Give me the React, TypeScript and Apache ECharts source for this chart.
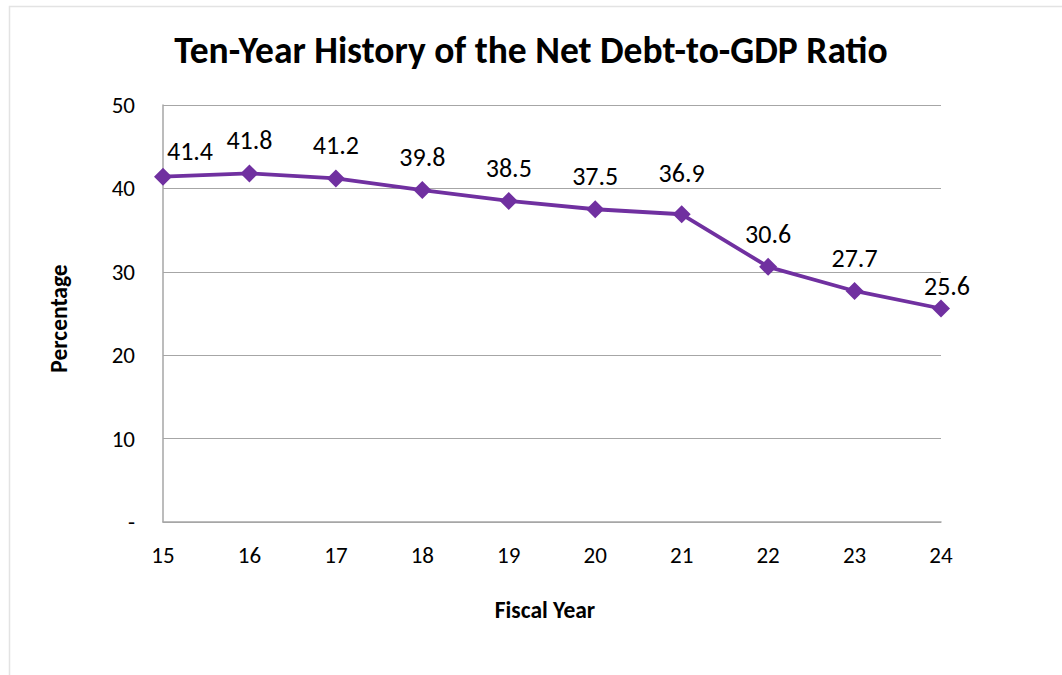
import React, { useEffect, useRef } from "react";
import * as echarts from "echarts";

const fiscalYears = ["15", "16", "17", "18", "19", "20", "21", "22", "23", "24"];
const netDebtToGdp = [41.4, 41.8, 41.2, 39.8, 38.5, 37.5, 36.9, 30.6, 27.7, 25.6];
const yTicks = [0, 10, 20, 30, 40, 50];

const titleText = "Ten-Year History of the Net Debt-to-GDP Ratio";
const xName = "Fiscal Year";
const yName = "Percentage";

const FONT = 'Carlito, "Open Sans", sans-serif';

// label nudges (Excel-style manual placement)
const labelNudges: Record<number, [number, number]> = {
  0: [27, 7],
  6: [0, -8],
  9: [6, 11],
};

export default function App() {
  const ref = useRef<HTMLDivElement>(null);
  useEffect(() => {
    document.body.style.margin = "0";
    const chart = echarts.init(ref.current!, null, { renderer: "svg" });
    chart.setOption({
      animation: false,
      backgroundColor: "#ffffff",
      graphic: [
        {
          type: "polyline",
          shape: { points: [[9.5, 680], [9.5, 6.5], [1070, 6.5]] },
          style: { stroke: "#e3e3e3", lineWidth: 1.5, fill: null },
          silent: true,
        },
      ],
      title: {
        text: titleText,
        left: "center",
        top: 26,
        textStyle: { fontFamily: FONT, fontWeight: "bold", fontSize: 37.5, color: "#000" },
      },
      grid: { left: 163, right: 121, top: 105, bottom: 153 },
      xAxis: {
        type: "category",
        data: fiscalYears,
        boundaryGap: false,
        name: xName,
        nameLocation: "middle",
        nameGap: 76,
        nameTextStyle: {
          fontFamily: FONT,
          fontWeight: "bold",
          fontSize: 23.5,
          color: "#000",
          padding: [0, 14, 0, 0],
        },
        axisLine: { lineStyle: { color: "#a6a6a6", width: 1.5 } },
        axisTick: { show: false },
        axisLabel: { fontFamily: FONT, fontSize: 23, color: "#000", margin: 21 },
      },
      yAxis: {
        type: "value",
        min: yTicks[0],
        max: yTicks[yTicks.length - 1],
        interval: 10,
        name: yName,
        nameLocation: "middle",
        nameGap: 92,
        nameTextStyle: {
          fontFamily: FONT,
          fontWeight: "bold",
          fontSize: 23.5,
          color: "#000",
          padding: [0, 10, 0, 0],
        },
        axisLine: { show: true, lineStyle: { color: "#a6a6a6", width: 1.5 } },
        axisTick: { show: false },
        splitLine: { lineStyle: { color: "#a6a6a6", width: 1.2 } },
        axisLabel: {
          fontFamily: FONT,
          fontSize: 23,
          color: "#000",
          margin: 28,
          formatter: (v: number) => (v === 0 ? "-" : String(v)),
        },
      },
      series: [
        {
          type: "line",
          data: netDebtToGdp.map((v, i) => {
            const n = labelNudges[i];
            return n ? { value: v, label: { offset: n } } : { value: v };
          }),
          symbol: "diamond",
          symbolSize: 18,
          lineStyle: { color: "#7030A0", width: 3.8 },
          itemStyle: { color: "#7030A0" },
          label: {
            show: true,
            position: "top",
            distance: 11,
            fontFamily: FONT,
            fontSize: 26,
            color: "#000",
          },
        },
      ],
    });
    return () => chart.dispose();
  }, []);
  return <div ref={ref} style={{ width: 1062, height: 675 }} />;
}
